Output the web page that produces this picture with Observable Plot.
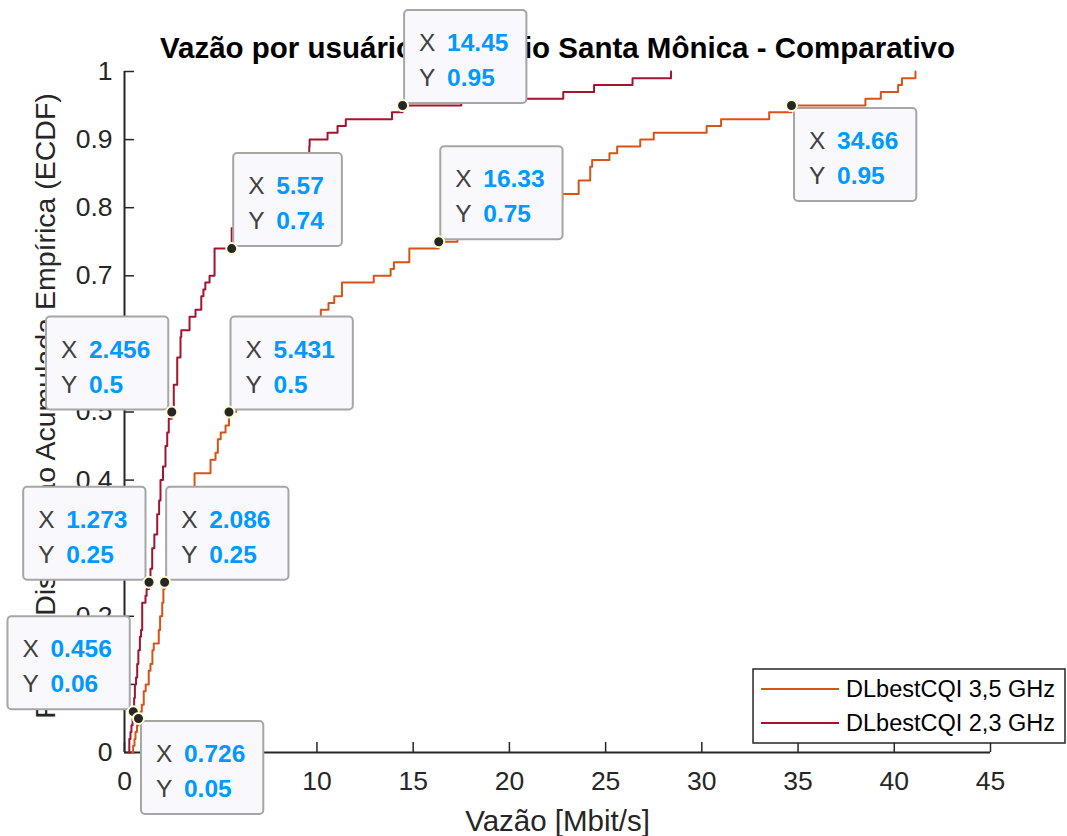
<!DOCTYPE html>
<html>
<head>
<meta charset="utf-8">
<script src="https://cdn.jsdelivr.net/npm/d3@7"></script>
<script src="https://cdn.jsdelivr.net/npm/@observablehq/plot@0.6"></script>
<style>
  html, body { margin: 0; padding: 0; background: #fff; }
  #chart svg { display: block; }
</style>
</head>
<body>
<div id="chart"></div>
<script>
// Empirical CDFs of per-user downlink throughput, DLbestCQI scheduler, two carriers.
const titulo = "Vazão por usuário - Cenário Santa Mônica - Comparativo";
const rotuloX = "Vazão [Mbit/s]";
const rotuloY = "Função Distribuição Acumulada Empírica (ECDF)";

const series = ["DLbestCQI 3,5 GHz", "DLbestCQI 2,3 GHz"];
const cores = ["#D95319", "#A2142F"];

// 3,5 GHz: throughput where the ECDF steps, and the level after each step
const vazao35 = [0.40, 0.45, 0.52, 0.57, 0.65, 0.726, 0.82, 0.90, 1.00, 1.10,
  1.26, 1.35, 1.45, 1.52, 1.78, 1.85, 1.96, 2.02, 2.086, 2.3,
  2.6, 2.9, 3.2, 3.5, 3.64, 4.47, 4.73, 4.85, 5.0, 5.25,
  5.431, 5.8, 6.3, 6.8, 7.3, 7.9, 8.6, 9.4, 10.2, 10.6,
  10.9, 11.3, 12.95, 13.83, 14.0, 14.8, 16.33, 17.3, 18.6, 19.8,
  21.2, 22.75, 23.6, 24.2, 24.3, 25.2, 25.6, 26.8, 27.5, 30.25,
  31.0, 33.5, 34.66, 38.5, 39.3, 40.2, 40.4, 41.1];
const ecdf35 = [0, 0.01, 0.02, 0.03, 0.04, 0.05, 0.06, 0.07, 0.09, 0.10,
  0.12, 0.13, 0.15, 0.16, 0.18, 0.20, 0.22, 0.24, 0.25, 0.28,
  0.31, 0.34, 0.36, 0.38, 0.41, 0.43, 0.44, 0.46, 0.47, 0.48,
  0.50, 0.52, 0.54, 0.56, 0.58, 0.60, 0.62, 0.63, 0.65, 0.66,
  0.67, 0.69, 0.70, 0.71, 0.72, 0.74, 0.75, 0.77, 0.78, 0.80,
  0.81, 0.82, 0.84, 0.86, 0.87, 0.88, 0.89, 0.90, 0.91, 0.92,
  0.93, 0.94, 0.95, 0.96, 0.97, 0.98, 0.99, 1.0];

// 2,3 GHz
const vazao23 = [0.22, 0.25, 0.31, 0.36, 0.42, 0.456, 0.50, 0.54, 0.60, 0.66,
  0.72, 0.80, 0.86, 0.92, 1.09, 1.15, 1.273, 1.35, 1.44, 1.55,
  1.70, 1.80, 1.87, 2.00, 2.13, 2.22, 2.30, 2.456, 2.56, 2.74,
  2.91, 2.95, 3.38, 3.69, 3.99, 4.10, 4.20, 4.42, 4.68, 5.57,
  6.2, 6.8, 7.5, 8.2, 9.0, 9.6, 9.62, 10.55, 11.07, 11.5,
  13.9, 14.45, 17.5, 22.8, 24.4, 26.4, 28.4];
const ecdf23 = [0, 0.02, 0.03, 0.04, 0.05, 0.06, 0.08, 0.10, 0.11, 0.13,
  0.15, 0.17, 0.18, 0.22, 0.23, 0.24, 0.25, 0.27, 0.30, 0.32,
  0.35, 0.37, 0.40, 0.42, 0.45, 0.47, 0.49, 0.50, 0.54, 0.58,
  0.61, 0.62, 0.64, 0.65, 0.67, 0.68, 0.69, 0.70, 0.74, 0.77,
  0.79, 0.81, 0.83, 0.85, 0.87, 0.89, 0.90, 0.91, 0.92, 0.93,
  0.94, 0.95, 0.96, 0.97, 0.98, 0.99, 1.0];

// Data tips: series, coordinates and on which side of the point the box sits
const tipSerie = [series[1], series[0], series[1], series[0], series[1], series[0], series[1], series[0], series[1], series[0]];
const tipX = [14.45, 34.66, 5.57, 16.33, 2.456, 5.431, 1.273, 2.086, 0.456, 0.726];
const tipY = [0.95, 0.95, 0.74, 0.75, 0.5, 0.5, 0.25, 0.25, 0.06, 0.05];
const tipLado = ["ne", "se", "ne", "ne", "nw", "ne", "nw", "ne", "nw", "se"];

const xTicks = [0, 5, 10, 15, 20, 25, 30, 35, 40, 45];
const yTicks = [0, 0.1, 0.2, 0.3, 0.4, 0.5, 0.6, 0.7, 0.8, 0.9, 1];

const FONT = "'Liberation Sans', Arial, Helvetica, sans-serif";
const INK = "#262626";

const linhas = [
  ...vazao35.map((v, i) => ({serie: series[0], x: v, y: ecdf35[i]})),
  ...vazao23.map((v, i) => ({serie: series[1], x: v, y: ecdf23[i]}))
];
const tips = tipX.map((x, i) => ({serie: tipSerie[i], x, y: tipY[i], lado: tipLado[i]}));

const medidor = document.createElement("canvas").getContext("2d");
function largura(txt, font) { medidor.font = font; return medidor.measureText(txt).width; }

// Boxed data tips ("X value / Y value"), placed from the x/y scales
function caixasDatatip(index, scales) {
  const g = d3.create("svg:g").attr("font-family", FONT).attr("font-size", 24.5)
    .attr("text-anchor", "start");
  const h = 93;
  for (const t of tips) {
    const px = scales.x(t.x), py = scales.y(t.y);
    const vx = String(t.x), vy = String(t.y);
    const w = 46 + Math.max(largura(vx, `bold 24.5px ${FONT}`), largura(vy, `bold 24.5px ${FONT}`)) + 15;
    let left, top;
    if (t.lado === "ne") { left = px + 2; top = py - 2 - h; }
    else if (t.lado === "se") { left = px + 3; top = py + 3; }
    else { left = px - 3 - w; top = py - 2 - h; }
    const b = g.append("g").attr("transform", `translate(${left},${top})`);
    b.append("rect").attr("width", w).attr("height", h).attr("rx", 4)
      .attr("fill", "#f8f8fd").attr("stroke", "#a6a6a6").attr("stroke-width", 2);
    [["X", vx, 41], ["Y", vy, 76]].forEach(([k, v, base]) => {
      b.append("text").attr("x", 15).attr("y", base).attr("fill", "#404040").text(k);
      b.append("text").attr("x", 43).attr("y", base).attr("fill", "#0099FF")
        .attr("font-weight", "bold").text(v);
    });
  }
  return g.node();
}

// Legend box in the lower right corner of the axes
function legenda(index, scales, values, dims) {
  const g = d3.create("svg:g").attr("font-family", FONT).attr("font-size", 23.5)
    .attr("text-anchor", "start");
  const right = dims.width - 2;
  const bottom = dims.height - dims.marginBottom - 9;
  const tw = Math.max(...series.map(s => largura(s, `23.5px ${FONT}`)));
  const w = 93 + tw + 10, h = 74;
  const left = right - w, top = bottom - h;
  g.append("rect").attr("x", left).attr("y", top).attr("width", w).attr("height", h)
    .attr("fill", "#fff").attr("stroke", INK).attr("stroke-width", 1.5);
  series.forEach((s, i) => {
    const cy = top + 20 + i * 34;
    g.append("line").attr("x1", left + 8).attr("x2", left + 86).attr("y1", cy).attr("y2", cy)
      .attr("stroke", cores[i]).attr("stroke-width", 2);
    g.append("text").attr("x", left + 93).attr("y", cy).attr("dy", "0.35em")
      .attr("fill", "#000").text(s);
  });
  return g.node();
}

const chart = Plot.plot({
  width: 1067,
  height: 836,
  marginLeft: 124,
  marginRight: 77,
  marginTop: 71,
  marginBottom: 84,
  style: {fontFamily: FONT, background: "#fff", color: INK, overflow: "visible"},
  x: {domain: [0, 45]},
  y: {domain: [0, 1]},
  color: {domain: series, range: cores},
  marks: [
    Plot.axisX({ticks: xTicks, tickFormat: d => String(d), tickSize: -10, tickPadding: 29,
      fontSize: 26.5, strokeWidth: 1.5, label: null}),
    Plot.axisY({ticks: yTicks, tickFormat: d => String(d), tickSize: -10, tickPadding: 22,
      fontSize: 26.5, strokeWidth: 1.5, label: null}),
    Plot.ruleX([0], {stroke: INK, strokeWidth: 2}),
    Plot.ruleY([0], {stroke: INK, strokeWidth: 2}),
    Plot.text([titulo], {frameAnchor: "top", dy: -14, lineAnchor: "bottom", textAnchor: "middle",
      fontSize: 29.5, fontWeight: "bold", fill: "#000"}),
    Plot.text([rotuloX], {frameAnchor: "bottom", dy: 78, lineAnchor: "bottom", textAnchor: "middle",
      fontSize: 29.5, fill: INK}),
    Plot.text([rotuloY], {frameAnchor: "left", dx: -79, dy: -6, rotate: -90, lineAnchor: "middle",
      textAnchor: "middle", fontSize: 28.5, fill: INK}),
    Plot.line(linhas, {x: "x", y: "y", z: "serie", stroke: "serie", strokeWidth: 2, curve: "step-after"}),
    caixasDatatip,
    Plot.dot(tips, {x: "x", y: "y", r: 5.5, fill: INK, stroke: "#fffbd6", strokeWidth: 2}),
    legenda
  ]
});

document.getElementById("chart").append(chart);
</script>
</body>
</html>
